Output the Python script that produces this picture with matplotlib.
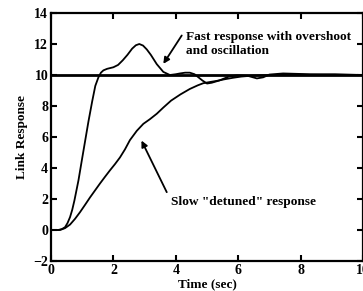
import matplotlib
matplotlib.use("Agg")
import matplotlib.pyplot as plt

plt.rcParams['font.family'] = ['Liberation Serif', 'DejaVu Serif']
plt.rcParams['font.weight'] = 'bold'

# fast response (overshoot + oscillation)
fast_t = [0, 0.23, 0.35, 0.45, 0.53, 0.61, 0.68, 0.75, 0.88, 0.98, 1.09, 1.2,
          1.32, 1.42, 1.52, 1.6, 1.68, 1.8, 2.0, 2.15, 2.3, 2.45, 2.6, 2.72,
          2.83, 2.95, 3.07, 3.2, 3.39, 3.6, 3.81, 4.0, 4.13, 4.3, 4.45, 4.6,
          4.72, 4.85, 5.0, 5.15, 5.4, 5.7, 5.95, 6.3, 6.6, 6.8, 7.0, 7.44,
          8.3, 9.1, 10]
fast_y = [0, 0, 0.06, 0.18, 0.45, 0.83, 1.3, 1.9, 3.2, 4.4, 5.7, 7.0,
          8.3, 9.3, 9.85, 10.15, 10.3, 10.4, 10.5, 10.65, 10.95, 11.3, 11.7, 11.92,
          12.0, 11.9, 11.65, 11.3, 10.7, 10.2, 10.0, 10.05, 10.1, 10.15, 10.15, 10.05,
          9.86, 9.65, 9.45, 9.5, 9.65, 9.9, 9.97, 9.95, 9.78, 9.85, 10.03, 10.1,
          10.05, 10.05, 10.0]

# slow "detuned" response
slow_t = [0, 0.29, 0.45, 0.61, 0.77, 0.93, 1.09, 1.25, 1.41, 1.57, 1.73, 1.89,
          2.05, 2.21, 2.37, 2.53, 2.75, 2.96, 3.17, 3.39, 3.6, 3.85, 4.15, 4.45,
          4.7, 4.88, 5.1, 5.31, 5.55, 5.83, 6.1, 6.4, 7.0, 8.0, 9.0, 10]
slow_y = [0, 0, 0.12, 0.35, 0.72, 1.15, 1.62, 2.1, 2.55, 3.0, 3.43, 3.85,
          4.25, 4.68, 5.2, 5.8, 6.4, 6.85, 7.15, 7.5, 7.9, 8.35, 8.75, 9.1,
          9.33, 9.47, 9.55, 9.62, 9.72, 9.82, 9.9, 9.95, 10.0, 10.02, 10.0, 10.0]

setpoint = 10

fig = plt.figure(figsize=(3.63, 2.91), dpi=100)
ax = fig.add_axes([0.1405, 0.1031, 0.8595, 0.8522])

ax.axhline(setpoint, color='black', lw=2.0)
ax.plot(fast_t, fast_y, color='black', lw=1.3)
ax.plot(slow_t, slow_y, color='black', lw=1.3)

ax.set_xlim(0, 10)
ax.set_ylim(-2, 14)
ax.set_xticks([0, 2, 4, 6, 8, 10])
ax.set_yticks([-2, 0, 2, 4, 6, 8, 10, 12, 14])
ax.tick_params(direction='in', length=4, width=1.5, labelsize=10,
               top=True, right=True, pad=2)
for s in ax.spines.values():
    s.set_linewidth(1.6)

ax.set_xlabel('Time (sec)', fontsize=9.5, fontweight='bold', labelpad=1)
ax.set_ylabel('Link Response', fontsize=9.5, fontweight='bold', labelpad=4)

ax.text(4.33, 12.0, 'Fast response with overshoot\nand oscillation',
        fontsize=9.6, fontweight='bold', va='center', ha='left', linespacing=1.3)
ax.annotate('', xy=(3.6, 10.72), xytext=(4.19, 12.55),
            arrowprops=dict(arrowstyle='-|>', color='black', lw=1.3,
                            shrinkA=0, shrinkB=0, mutation_scale=9))
ax.text(3.84, 1.79, 'Slow "detuned" response', fontsize=9.6, fontweight='bold',
        va='center', ha='left')
ax.annotate('', xy=(2.9, 5.77), xytext=(3.71, 2.44),
            arrowprops=dict(arrowstyle='-|>', color='black', lw=1.3,
                            shrinkA=0, shrinkB=0, mutation_scale=9))

fig.savefig('out.png', dpi=100)
